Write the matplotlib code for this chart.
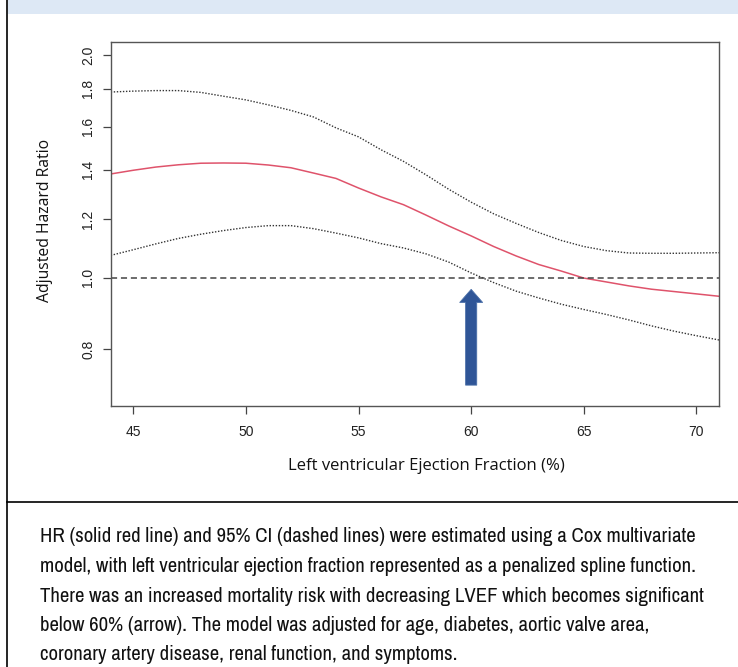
"""Adjusted hazard ratio vs LVEF (penalized spline), with 95% CI band lines."""
import matplotlib
matplotlib.use("Agg")
import matplotlib.pyplot as plt
from matplotlib.lines import Line2D
from matplotlib.patches import Rectangle
from matplotlib.ticker import FixedLocator, NullLocator
from matplotlib import font_manager

# ---- data ----
ef = [44, 45, 46, 47, 48, 49, 50, 51, 52, 53, 54, 55, 56, 57,
      58, 59, 60, 61, 62, 63, 64, 65, 66, 67, 68, 69, 70, 71]
hr = [1.381, 1.397, 1.411, 1.421, 1.428, 1.429, 1.428, 1.420, 1.408, 1.385,
      1.362, 1.322, 1.286, 1.255, 1.215, 1.175, 1.139, 1.102, 1.070, 1.042,
      1.021, 0.999, 0.987, 0.975, 0.965, 0.958, 0.951, 0.944]
hr_upper = [1.782, 1.787, 1.790, 1.790, 1.780, 1.759, 1.739, 1.712, 1.683, 1.649,
            1.594, 1.550, 1.489, 1.436, 1.377, 1.317, 1.265, 1.220, 1.184, 1.151,
            1.123, 1.102, 1.088, 1.080, 1.079, 1.079, 1.080, 1.081]
hr_lower = [1.072, 1.091, 1.111, 1.130, 1.145, 1.158, 1.169, 1.176, 1.176, 1.165,
            1.149, 1.132, 1.112, 1.097, 1.077, 1.050, 1.015, 0.985, 0.959, 0.939,
            0.921, 0.906, 0.892, 0.877, 0.861, 0.847, 0.835, 0.824]

x_ticks = [45, 50, 55, 60, 65, 70]
y_ticks = [0.8, 1.0, 1.2, 1.4, 1.6, 1.8, 2.0]
y_tick_labels = ["0.8", "1.0", "1.2", "1.4", "1.6", "1.8", "2.0"]

arrow_ef = 60
arrow_hr_tail = 0.716
arrow_hr_tip = 0.9645

x_label = "Left ventricular Ejection Fraction (%)"
y_label = "Adjusted Hazard Ratio"
caption_lines = [
    "HR (solid red line) and 95% CI (dashed lines) were estimated using a Cox multivariate",
    "model, with left ventricular ejection fraction represented as a penalized spline function.",
    "There was an increased mortality risk with decreasing LVEF which becomes significant",
    "below 60% (arrow). The model was adjusted for age, diabetes, aortic valve area,",
    "coronary artery disease, renal function, and symptoms.",
]

W, H = 738, 667


def fy(px):
    """pixel row from top -> figure fraction"""
    return 1 - px / H


# caption in the reference is set in a narrow face; use one if there is any
caption_font = "Open Sans"
for f in font_manager.fontManager.ttflist:
    if "Condensed" in f.name or "Narrow" in f.name:
        caption_font = f.name
        break

fig = plt.figure(figsize=(W / 100, H / 100), dpi=100)

# page decoration: header band and frame lines
fig.add_artist(Rectangle((8 / W, fy(14)), 1, 14 / H, transform=fig.transFigure,
                         facecolor="#dde8f5", edgecolor="none"))
fig.add_artist(Line2D([7 / W, 7 / W], [0, 1], transform=fig.transFigure,
                      color="black", lw=1.2))
fig.add_artist(Line2D([7 / W, 1], [fy(502), fy(502)], transform=fig.transFigure,
                      color="black", lw=1.2))

ax = fig.add_axes([110.7 / W, fy(406), (719 - 110.7) / W, (406 - 41.7) / H])
ax.set_yscale("log")
ax.set_xlim(44, 71)
ax.set_ylim(0.671, 2.084)

ax.plot(ef, hr_upper, color="#333333", lw=1.0, linestyle=(0, (1, 1.2)))
ax.plot(ef, hr_lower, color="#333333", lw=1.0, linestyle=(0, (1, 1.2)))
ax.plot(ef, hr, color="#df536b", lw=1.1)
ax.axhline(1.0, color="#444444", lw=1.1, linestyle=(0, (4, 2.5)))

# arrow marking where the lower CI crosses 1
ax.annotate("", xy=(arrow_ef, arrow_hr_tip), xytext=(arrow_ef, arrow_hr_tail),
            arrowprops=dict(arrowstyle="simple,head_width=16.5,head_length=9.4,tail_width=8",
                            mutation_scale=1, shrinkA=0, shrinkB=0,
                            facecolor="#2f5597", edgecolor="#4a6fa8", lw=0.6))

ax.xaxis.set_major_locator(FixedLocator(x_ticks))
ax.yaxis.set_major_locator(FixedLocator(y_ticks))
ax.yaxis.set_minor_locator(NullLocator())
ax.set_yticklabels(y_tick_labels)
for t in ax.get_yticklabels():
    t.set_rotation(90)
    t.set_va("center")
ax.tick_params(axis="both", length=6, width=0.9, color="#444444",
               labelsize=10, labelcolor="#222222")
ax.tick_params(axis="y", pad=5)
ax.tick_params(axis="x", pad=8)
for lab in ax.get_xticklabels() + ax.get_yticklabels():
    lab.set_family("Liberation Sans")
for s in ax.spines.values():
    s.set_color("#555555")
    s.set_linewidth(1.0)

fig.text(45 / W, fy(220), y_label, rotation=90, ha="center", va="center",
         family="Open Sans", fontsize=11.3, color="#111111")
fig.text(426 / W, fy(466), x_label, ha="center", va="center",
         family="Open Sans", fontsize=12, color="#111111")

# caption, size fitted to the first line
probe = fig.text(0, 0, caption_lines[0], family=caption_font, fontsize=12)
fig.canvas.draw()
w = probe.get_window_extent().width
probe.remove()
cap_size = 12 * 652 / w
for i, line in enumerate(caption_lines):
    fig.text(40 / W, fy(537 + 29.5 * i), line, ha="left", va="center",
             family=caption_font, fontsize=cap_size, color="#111111")

fig.savefig("out.png", dpi=100)
